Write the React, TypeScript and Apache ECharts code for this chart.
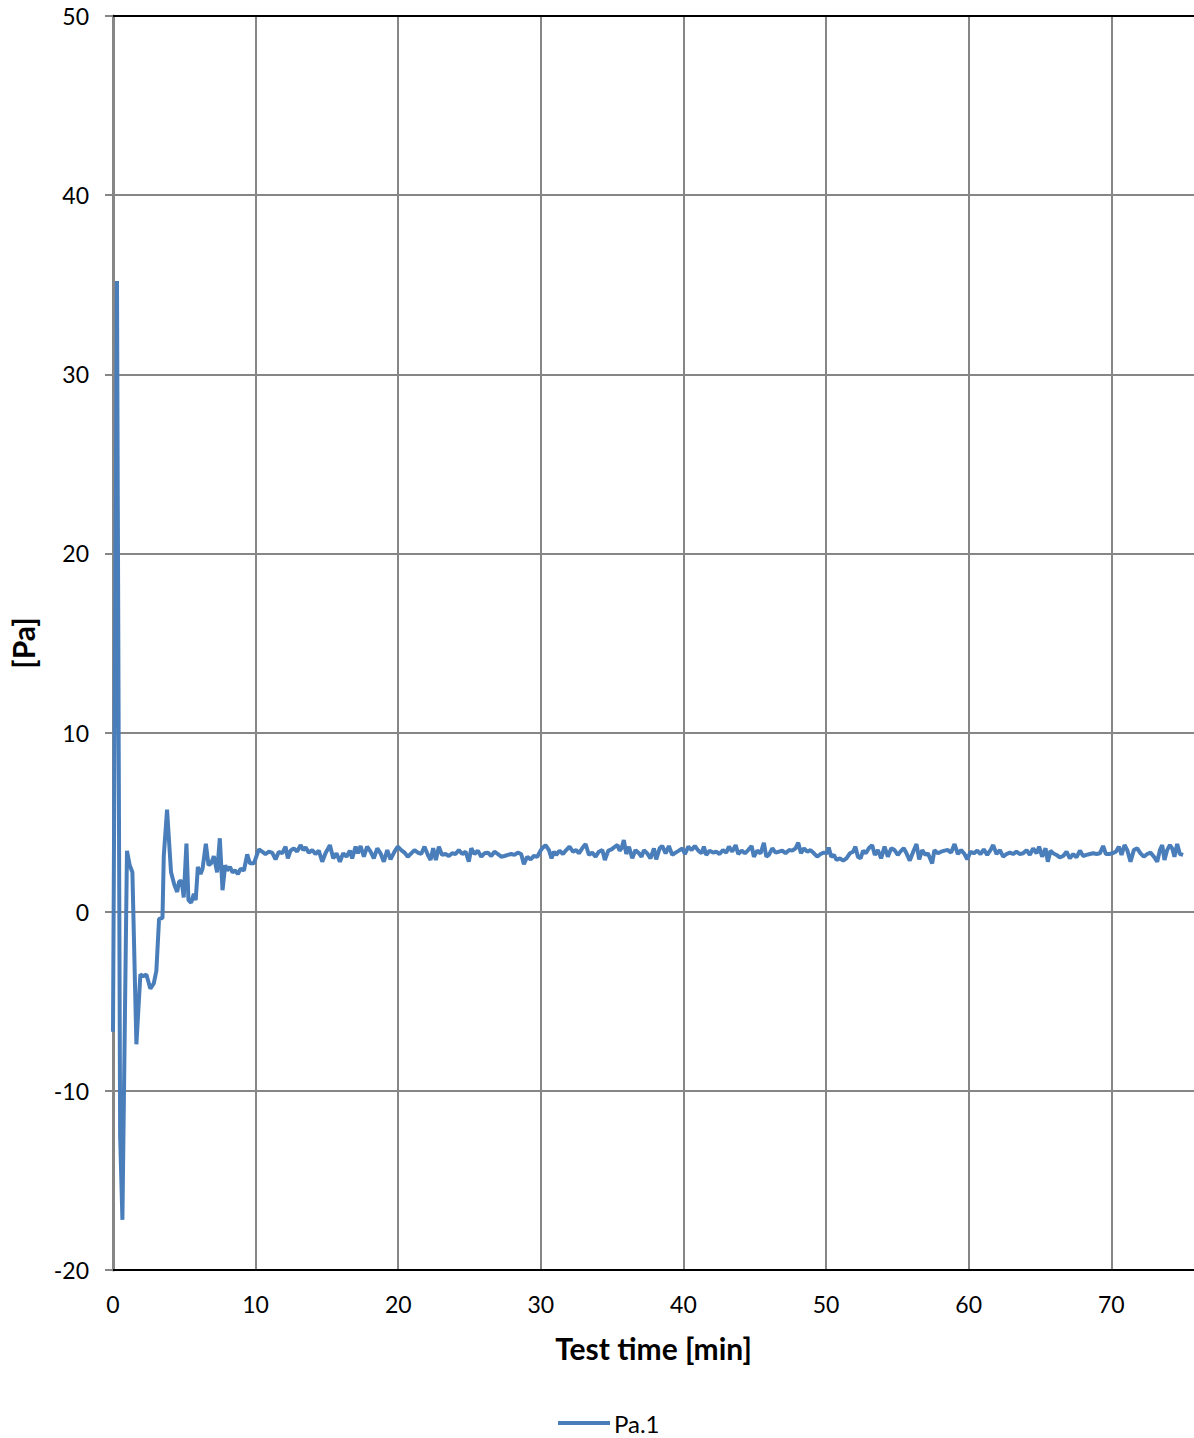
import React, { useEffect, useRef } from "react";
import * as echarts from "echarts";

// Pa.1 readings: [test time (min), pressure (Pa)]
const pa1Start: [number, number][] = [
  [0, -6.7], [0.28, 35.2], [0.5, -12.5], [0.66, -17.2], [0.98, 3.4], [1.17, 2.6], [1.36, 2.2],
  [1.64, -7.4], [1.92, -3.5], [2.1, -3.6], [2.34, -3.5], [2.62, -4.3], [2.86, -4.0], [3.04, -3.3],
  [3.23, -0.4], [3.47, -0.35], [3.56, 3.1], [3.79, 5.7], [4.07, 2.2], [4.3, 1.5], [4.5, 1.1],
  [4.64, 1.7], [4.82, 1.7], [4.96, 0.8], [5.15, 3.8], [5.29, 0.65], [5.48, 0.5], [5.67, 1.0],
  [5.8, 0.65], [5.95, 2.5], [6.14, 2.1], [6.28, 2.4], [6.51, 3.8], [6.7, 2.6], [6.88, 2.7],
  [7.07, 3.1], [7.3, 2.2], [7.49, 4.1], [7.68, 1.2], [7.87, 2.6], [8.0, 2.3], [8.2, 2.5],
  [8.38, 2.2], [8.57, 2.3], [8.76, 2.1], [8.95, 2.4], [9.18, 2.3], [9.41, 3.2], [9.6, 2.7],
];

const pa1From10: [number, number][] = [
  [9.88, 2.7], [10.23, 3.48], [10.46, 3.35], [10.69, 3.22], [10.93, 3.35], [11.16, 3.3], [11.4, 2.92],
  [11.63, 3.35], [11.86, 3.26], [12.1, 3.63], [12.26, 2.98], [12.45, 3.41], [12.68, 3.54], [12.91, 3.35],
  [13.15, 3.72], [13.34, 3.44], [13.5, 3.59], [13.73, 3.3], [13.97, 3.44], [14.2, 3.22], [14.43, 3.41],
  [14.67, 2.79], [14.9, 3.26], [15.21, 3.72], [15.44, 2.98], [15.67, 3.26], [15.91, 2.79], [16.14, 3.26],
  [16.37, 3.07], [16.61, 3.41], [16.77, 2.98], [17.01, 3.63], [17.17, 3.26], [17.36, 3.67], [17.59, 3.07],
  [17.82, 3.63], [18.06, 3.35], [18.29, 2.98], [18.53, 3.54], [18.76, 3.26], [18.99, 2.79], [19.23, 3.44],
  [19.46, 2.92], [19.74, 3.35], [19.97, 3.63], [20.21, 3.44], [20.44, 3.3], [20.67, 3.07], [20.91, 3.26],
  [21.14, 3.44], [21.38, 3.3], [21.61, 3.22], [21.84, 3.63], [22.08, 3.17], [22.27, 2.89], [22.45, 3.54],
  [22.64, 2.89], [22.85, 3.63], [23.08, 3.17], [23.32, 3.22], [23.55, 3.11], [23.78, 3.26], [24.02, 3.22],
  [24.25, 3.44], [24.49, 3.22], [24.72, 3.35], [24.95, 2.79], [25.12, 3.54], [25.35, 3.22], [25.58, 3.41],
  [25.82, 3.07], [26.05, 3.26], [26.29, 3.3], [26.52, 3.11], [26.75, 3.35], [26.99, 3.22], [27.22, 3.07],
  [27.45, 3.11], [27.69, 3.17], [27.92, 3.22], [28.15, 3.17], [28.39, 3.3], [28.62, 3.22], [28.81, 2.65],
  [29.04, 3.07], [29.28, 2.92], [29.51, 3.11], [29.75, 3.07],
];

const pa1From30: [number, number][] = [
  [29.98, 3.41], [30.1, 3.54], [30.33, 3.72], [30.57, 3.44], [30.75, 2.98], [30.92, 3.35], [31.08, 3.17],
  [31.31, 3.41], [31.55, 3.22], [31.78, 3.44], [32.01, 3.63], [32.25, 3.35], [32.48, 3.44], [32.67, 3.26],
  [32.9, 3.54], [33.14, 3.78], [33.37, 3.17], [33.6, 3.3], [33.84, 3.07], [34.07, 3.35], [34.31, 3.44],
  [34.49, 2.89], [34.73, 3.41], [34.96, 3.48], [35.19, 3.63], [35.38, 3.72], [35.52, 3.41], [35.66, 3.54],
  [35.82, 4.0], [35.99, 3.22], [36.18, 3.63], [36.41, 2.98], [36.64, 3.44], [36.88, 3.26], [37.06, 3.07],
  [37.23, 3.44], [37.46, 3.26], [37.69, 2.98], [37.93, 3.54], [38.09, 2.92], [38.33, 3.54], [38.51, 3.67],
  [38.75, 3.26], [38.98, 3.67], [39.21, 3.17], [39.45, 3.3], [39.68, 3.41], [39.92, 3.54], [40.1, 3.22],
  [40.34, 3.63], [40.57, 3.44], [40.8, 3.67], [41.04, 3.41], [41.27, 3.26], [41.43, 3.63], [41.6, 3.17],
  [41.83, 3.41], [42.07, 3.3], [42.3, 3.35], [42.53, 3.22], [42.77, 3.44], [43.0, 3.3], [43.19, 3.63],
  [43.42, 3.35], [43.66, 3.72], [43.84, 3.22], [44.08, 3.41], [44.31, 3.26], [44.54, 3.44], [44.78, 3.67],
  [44.94, 3.07], [45.17, 3.41], [45.41, 3.26], [45.64, 3.85], [45.81, 3.07], [45.99, 3.17], [46.23, 3.54],
  [46.46, 3.3], [46.69, 3.35], [46.93, 3.41], [47.16, 3.26], [47.4, 3.44], [47.63, 3.41], [47.86, 3.54],
  [48.05, 3.85], [48.24, 3.26], [48.45, 3.54], [48.68, 3.35], [48.91, 3.44], [49.15, 3.26], [49.38, 3.07],
  [49.62, 3.22], [49.84, 3.3],
];

const pa1From50: [number, number][] = [
  [50.08, 3.26], [50.19, 3.59], [50.36, 3.07], [50.55, 3.17], [50.73, 2.89], [50.97, 2.98], [51.2, 2.85],
  [51.43, 2.98], [51.67, 3.26], [51.9, 3.35], [52.06, 3.63], [52.23, 3.07], [52.42, 2.98], [52.6, 3.41],
  [52.79, 3.26], [53.0, 3.54], [53.23, 3.72], [53.42, 3.17], [53.63, 3.44], [53.86, 2.98], [54.1, 3.63],
  [54.33, 3.07], [54.57, 3.54], [54.8, 3.44], [55.03, 3.17], [55.27, 3.41], [55.45, 3.54], [55.64, 3.26],
  [55.87, 2.85], [56.11, 3.35], [56.34, 3.78], [56.53, 2.92], [56.74, 3.44], [56.97, 3.17], [57.14, 3.26],
  [57.44, 2.7], [57.6, 3.44], [57.84, 3.26], [58.07, 3.35], [58.31, 3.41], [58.54, 3.44], [58.77, 3.3],
  [59.01, 3.78], [59.24, 3.22], [59.47, 3.44], [59.71, 3.22], [59.9, 2.92], [60.13, 3.35], [60.36, 3.26],
  [60.6, 3.41], [60.83, 3.22], [61.06, 3.48], [61.3, 3.17], [61.53, 3.44], [61.72, 3.72], [61.95, 3.22],
  [62.19, 3.44], [62.42, 3.07], [62.65, 3.22], [62.89, 3.3], [63.12, 3.22], [63.35, 3.35], [63.59, 3.22],
  [63.82, 3.26], [64.06, 3.44], [64.29, 3.17], [64.52, 3.54], [64.76, 3.26], [64.94, 3.63], [65.15, 3.07],
  [65.39, 3.54], [65.55, 2.79], [65.74, 3.41], [65.93, 3.26], [66.16, 3.17], [66.39, 3.03], [66.63, 3.11],
  [66.86, 3.35], [67.09, 2.98], [67.33, 3.22], [67.56, 3.03], [67.8, 3.41], [68.03, 3.11], [68.26, 3.17],
  [68.5, 3.22], [68.73, 3.26], [68.97, 3.22], [69.2, 3.26], [69.43, 3.67], [69.62, 3.22], [69.85, 3.22],
  [70.09, 3.26], [70.32, 3.35], [70.53, 3.63], [70.72, 3.17], [70.93, 3.72], [71.12, 3.44], [71.35, 2.79],
  [71.58, 3.44], [71.82, 3.54], [72.05, 3.26], [72.28, 3.07], [72.52, 3.22], [72.75, 3.3], [72.99, 3.07],
  [73.22, 2.79], [73.41, 3.44], [73.57, 3.72], [73.73, 2.89], [73.92, 3.44], [74.11, 3.72], [74.27, 3.54],
  [74.43, 3.07], [74.62, 3.78], [74.81, 3.22], [75.04, 3.17],
];

const seriesName = "Pa.1";
const xAxisTitle = "Test time [min]";
const yAxisTitle = "[Pa]";
const xRange = [0, 75.8];
const yRange = [-20, 50];
const tickStep = 10;

const FONT = "Lato, 'Open Sans', sans-serif";
const GRID_GRAY = "#868686";

export default function App() {
  const ref = useRef<HTMLDivElement>(null);

  useEffect(() => {
    document.body.style.margin = "0";
    if (!ref.current) return;
    const chart = echarts.init(ref.current, undefined, { renderer: "svg" });
    const data = [...pa1Start, ...pa1From10, ...pa1From30, ...pa1From50];
    chart.setOption({
      animation: false,
      backgroundColor: "#ffffff",
      textStyle: { fontFamily: FONT },
      grid: { left: 112.5, top: 16, right: 0, bottom: 168, containLabel: false },
      legend: {
        data: [{ name: seriesName, icon: "rect" }],
        left: 558,
        top: 1411,
        padding: 0,
        itemWidth: 52,
        itemHeight: 4,
        itemGap: 10,
        textStyle: { fontSize: 24, color: "#000", fontFamily: FONT, padding: [0, 0, 0, -1] },
      },
      xAxis: [
        {
          type: "value",
          min: xRange[0],
          max: xRange[1],
          interval: tickStep,
          position: "bottom",
          name: xAxisTitle,
          nameLocation: "middle",
          nameGap: 63,
          nameTextStyle: { fontSize: 30, fontWeight: "bold", color: "#000", fontFamily: FONT },
          axisLine: { show: true, onZero: false, lineStyle: { color: "#000", width: 2 } },
          axisTick: { show: false },
          axisLabel: { showMaxLabel: false, fontSize: 23, color: "#000", margin: 22, fontFamily: FONT },
          splitLine: { show: true, showMaxLine: false, lineStyle: { color: GRID_GRAY, width: 2 } },
        },
        {
          type: "value",
          min: xRange[0],
          max: xRange[1],
          position: "top",
          axisLine: { show: true, onZero: false, lineStyle: { color: "#000", width: 2 } },
          axisTick: { show: false },
          axisLabel: { show: false },
          splitLine: { show: false },
        },
      ],
      yAxis: {
        type: "value",
        min: yRange[0],
        max: yRange[1],
        interval: tickStep,
        name: yAxisTitle,
        nameLocation: "middle",
        nameGap: 75,
        nameTextStyle: { fontSize: 30, fontWeight: "bold", color: "#000", fontFamily: FONT },
        axisLine: { show: true, onZero: false, lineStyle: { color: GRID_GRAY, width: 3 } },
        axisTick: { show: true, length: 8, lineStyle: { color: GRID_GRAY, width: 2 } },
        axisLabel: { fontSize: 23, color: "#000", margin: 24, fontFamily: FONT },
        splitLine: { show: true, lineStyle: { color: GRID_GRAY, width: 2 } },
      },
      series: [
        {
          name: seriesName,
          type: "line",
          xAxisIndex: 0,
          data,
          showSymbol: false,
          symbol: "none",
          z: 5,
          itemStyle: { color: "#4a7ebb" },
          lineStyle: { color: "#4a7ebb", width: 4 },
        },
      ],
    });
    return () => chart.dispose();
  }, []);

  return <div ref={ref} style={{ width: 1194, height: 1438 }} />;
}
